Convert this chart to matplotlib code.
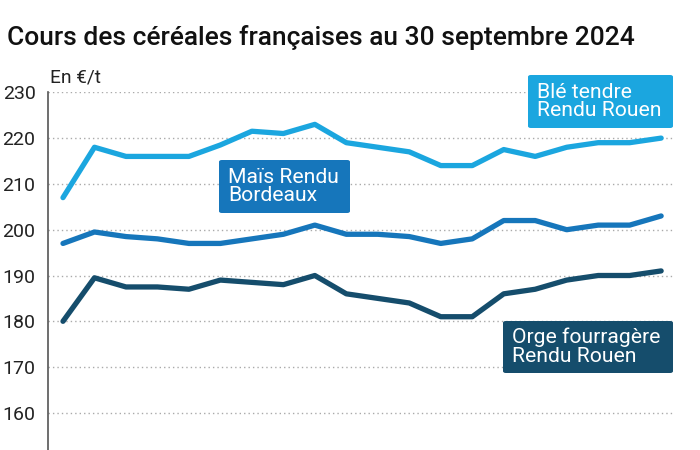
import matplotlib
matplotlib.use("Agg")
import matplotlib.pyplot as plt
from matplotlib.patches import FancyBboxPatch

plt.rcParams['font.family'] = ['Roboto', 'DejaVu Sans']

title = "Cours des céréales françaises au 30 septembre 2024"
unit_label = "En €/t"
x_index = list(range(20))
ble = [207, 218, 216, 216, 216, 218.5, 221.5, 221, 223, 219,
       218, 217, 214, 214, 217.5, 216, 218, 219, 219, 220]
mais = [197, 199.5, 198.5, 198, 197, 197, 198, 199, 201, 199,
        199, 198.5, 197, 198, 202, 202, 200, 201, 201, 203]
orge = [180, 189.5, 187.5, 187.5, 187, 189, 188.5, 188, 190, 186,
        185, 184, 181, 181, 186, 187, 189, 190, 190, 191]
yticks = [160, 170, 180, 190, 200, 210, 220, 230]
series_labels = ["Blé tendre\nRendu Rouen", "Maïs Rendu\nBordeaux",
                 "Orge fourragère\nRendu Rouen"]

c_ble = "#1ba6df"
c_mais = "#1676bb"
c_orge = "#154d6c"

W, H = 700, 450
fig = plt.figure(figsize=(7, 4.5), dpi=100)
ax = fig.add_axes([48 / W, 0, (675 - 48) / W, 1 - 92.3 / H])

for ys, col in [(ble, c_ble), (mais, c_mais), (orge, c_orge)]:
    ax.plot(x_index, ys, color=col, lw=3.8, solid_joinstyle='round',
            solid_capstyle='round', zorder=3)

ax.set_xlim(-0.476, 19.44)
ax.set_ylim(151.9, 230)
ax.set_yticks(yticks)
ax.set_yticklabels([str(v) for v in yticks], fontsize=14, color="#222222")
ax.set_xticks([])
ax.tick_params(axis='y', length=0, pad=9)
for s in ['top', 'right', 'bottom']:
    ax.spines[s].set_visible(False)
ax.spines['left'].set_color("#555555")
ax.spines['left'].set_linewidth(1.2)
ax.grid(axis='y', linestyle=(0, (1, 2.2)), color="#aaaaaa", lw=1.0, zorder=0)
ax.set_axisbelow(True)
ax.patch.set_alpha(0)

fig.text(7 / W, 1 - 45 / H, title, fontsize=19, fontweight='medium', color="#111111",
         ha='left', va='baseline')
fig.text(50 / W, 1 - 83 / H, unit_label, fontsize=13.8, color="#222222",
         ha='left', va='baseline')

def label(x0, x1, y0, y1, txt, col):
    box = FancyBboxPatch((x0 / W, 1 - y1 / H), (x1 - x0) / W, (y1 - y0) / H,
                         boxstyle="round,pad=0,rounding_size=0.004",
                         transform=fig.transFigure, fc=col, ec='none', zorder=5)
    fig.add_artist(box)
    fig.text((x0 + 9) / W, 1 - (y0 + y1) / 2 / H, txt, fontsize=15.2, color="white",
             ha='left', va='center', linespacing=0.98, zorder=6)

label(528, 673, 75, 128, series_labels[0], c_ble)
label(219, 350, 160, 213, series_labels[1], c_mais)
label(503, 673, 321, 373, series_labels[2], c_orge)

fig.savefig("out.png", dpi=100)
